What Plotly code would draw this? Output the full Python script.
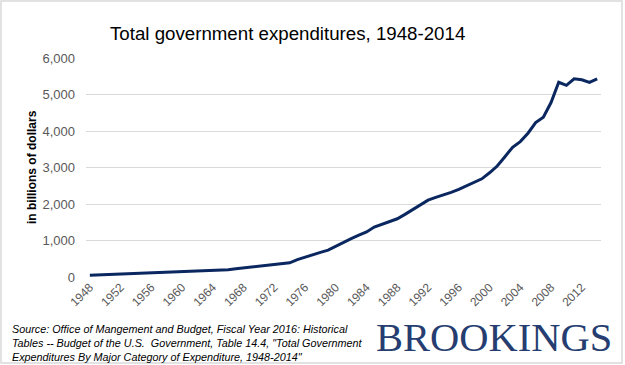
import plotly.graph_objects as go

years = list(range(1948, 2015))
expenditures = [
    47, 55, 62, 70, 85, 95, 96, 97, 105, 113,
    122, 130, 135, 145, 155, 162, 172, 180, 198, 225,
    250, 262, 280, 305, 345, 368, 390, 475, 548, 612,
    675, 735, 840, 960, 1050, 1145, 1235, 1370, 1445, 1510,
    1595, 1715, 1850, 1970, 2105, 2180, 2245, 2320, 2400, 2490,
    2580, 2690, 2855, 3040, 3295, 3555, 3710, 3940, 4230, 4380,
    4780, 5335, 5250, 5430, 5405, 5330, 5430,
]
tick_years = list(range(1948, 2015, 4))
y_ticks = [0, 1000, 2000, 3000, 4000, 5000, 6000]

title_text = "Total government expenditures, 1948-2014"
y_title = "in billions of dollars"
source_text = ("Source: Office of Mangement and Budget, Fiscal Year 2016: Historical<br>"
               "Tables -- Budget of the U.S.  Government, Table 14.4, \"Total Government<br>"
               "Expenditures By Major Category of Expenditure, 1948-2014\"")

W, H = 625, 365
L, R, T, B = 86, 24, 58, 88
pw, ph = W - L - R, H - T - B


def px(x):
    return (x - L) / pw


def py(y):
    return (H - B - y) / ph


fig = go.Figure()
fig.add_trace(go.Scatter(
    x=[str(y) for y in years], y=expenditures, mode="lines",
    line=dict(color="#0a2760", width=3), hoverinfo="x+y", showlegend=False,
))

fig.update_layout(
    width=W, height=H,
    margin=dict(l=L, r=R, t=T, b=B),
    paper_bgcolor="white", plot_bgcolor="white",
    font=dict(family="Arial, Liberation Sans, sans-serif", color="#595959"),
    xaxis=dict(
        type="category", range=[-0.5, len(years) - 0.5],
        tickmode="array", tickvals=[str(y) for y in tick_years],
        ticktext=[str(y) for y in tick_years],
        tickangle=-45, tickfont=dict(size=12, color="#595959"),
        showgrid=False, showline=False, zeroline=False, ticks="",
    ),
    yaxis=dict(
        range=[0, 6000], tickvals=y_ticks, tickformat=",",
        tickfont=dict(size=13, color="#595959"),
        showgrid=True, gridcolor="#d9d9d9", gridwidth=1,
        zeroline=False, showline=False, ticks="", ticklabelstandoff=10,
    ),
    annotations=[
        dict(text=title_text, xref="paper", yref="paper", x=px(108), y=py(33),
             xanchor="left", yanchor="middle", showarrow=False,
             font=dict(size=18.7, color="#000000")),
        dict(text="<b>" + y_title + "</b>", xref="paper", yref="paper",
             x=px(32), y=py(167), textangle=-90, xanchor="center", yanchor="middle",
             showarrow=False, font=dict(size=12, color="#000000")),
        dict(text="<i>" + source_text + "</i>", xref="paper", yref="paper",
             x=px(10), y=py(343), xanchor="left", yanchor="middle", align="left",
             showarrow=False, font=dict(size=10.8, color="#000000")),
        dict(text="BROOKINGS", xref="paper", yref="paper", x=px(614), y=py(337),
             xanchor="right", yanchor="middle", showarrow=False,
             font=dict(family="Liberation Serif, Times New Roman, serif", size=40.5,
                       color="#253d70")),
    ],
    shapes=[
        dict(type="rect", xref="paper", yref="paper", x0=px(1), x1=px(622),
             y0=py(363), y1=py(1), line=dict(color="#d9d9d9", width=1.5),
             fillcolor="rgba(0,0,0,0)", layer="below"),
    ],
)

fig.write_html(
    "out.html",
    config={"displayModeBar": False},
    post_script="document.body.style.margin='0';document.body.style.overflow='hidden';",
)
